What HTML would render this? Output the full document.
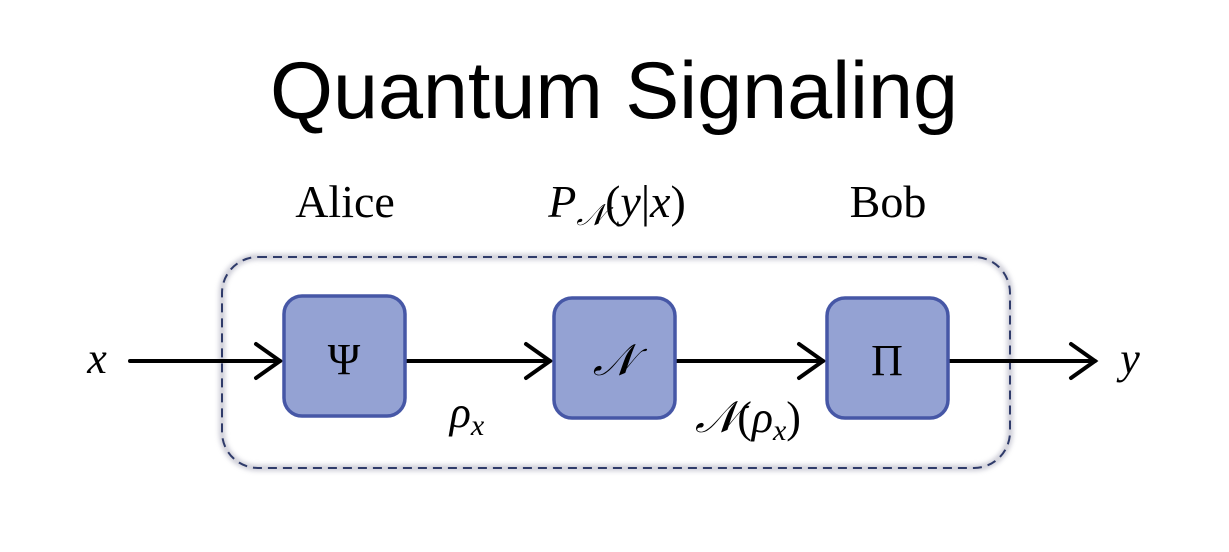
<!DOCTYPE html>
<html><head><meta charset="utf-8"><style>
html,body{margin:0;padding:0;background:#fff;width:1229px;height:552px;overflow:hidden}
</style></head><body>
<svg width="1229" height="552" viewBox="0 0 1229 552" xmlns="http://www.w3.org/2000/svg">
<defs>
<filter id="sh" x="-5%" y="-5%" width="110%" height="110%"><feGaussianBlur stdDeviation="2.5"/></filter>
</defs>
<text x="614" y="118" text-anchor="middle" font-family="Liberation Sans, sans-serif" font-size="81" textLength="688" fill="#000">Quantum Signaling</text>
<g font-family="Liberation Serif, serif" font-size="46" fill="#000">
<text x="345" y="217" text-anchor="middle">Alice</text>
<text x="617" y="217" text-anchor="middle"><tspan font-style="italic">P</tspan><tspan font-style="italic" font-size="30" dy="8">𝒩</tspan><tspan dy="-8">(</tspan><tspan font-style="italic">y</tspan>|<tspan font-style="italic">x</tspan>)</text>
<text x="888" y="217" text-anchor="middle">Bob</text>
</g>
<rect x="222" y="257" width="788" height="211" rx="36" fill="none" stroke="#aab" stroke-width="6" filter="url(#sh)" opacity="0.6"/>
<rect x="222" y="257" width="788" height="211" rx="36" fill="none" stroke="#2f3b6a" stroke-width="2" stroke-dasharray="9,6"/>
<g stroke="#000" stroke-width="4" fill="none" stroke-linecap="round">
<line x1="130" y1="361" x2="280" y2="361"/><polyline points="256,344 280,361 256,378"/>
<line x1="405" y1="361" x2="550" y2="361"/><polyline points="526,344 550,361 526,378"/>
<line x1="675" y1="361" x2="823" y2="361"/><polyline points="799,344 823,361 799,378"/>
<line x1="948" y1="361" x2="1095" y2="361"/><polyline points="1071,344 1095,361 1071,378"/>
</g>
<g fill="#94a2d3" stroke="#4657a6" stroke-width="3.5">
<rect x="284" y="296" width="121" height="120" rx="18"/>
<rect x="554" y="298" width="121" height="120" rx="18"/>
<rect x="827" y="298" width="121" height="120" rx="18"/>
</g>
<g font-family="Liberation Serif, serif" font-size="44" fill="#000" text-anchor="middle">
<text x="344" y="374">Ψ</text>
<text x="614" y="375" font-style="italic">𝒩</text>
<text x="887" y="375">Π</text>
<text x="97" y="373" font-style="italic">x</text>
<text x="1130" y="373" font-style="italic">y</text>
<text x="467" y="427"><tspan font-style="italic">ρ</tspan><tspan font-style="italic" font-size="30" dy="8">x</tspan></text>
<text x="748" y="432"><tspan font-style="italic">𝒩</tspan>(<tspan font-style="italic">ρ</tspan><tspan font-style="italic" font-size="30" dy="8">x</tspan><tspan dy="-8">)</tspan></text>
</g>
</svg>
</body></html>
